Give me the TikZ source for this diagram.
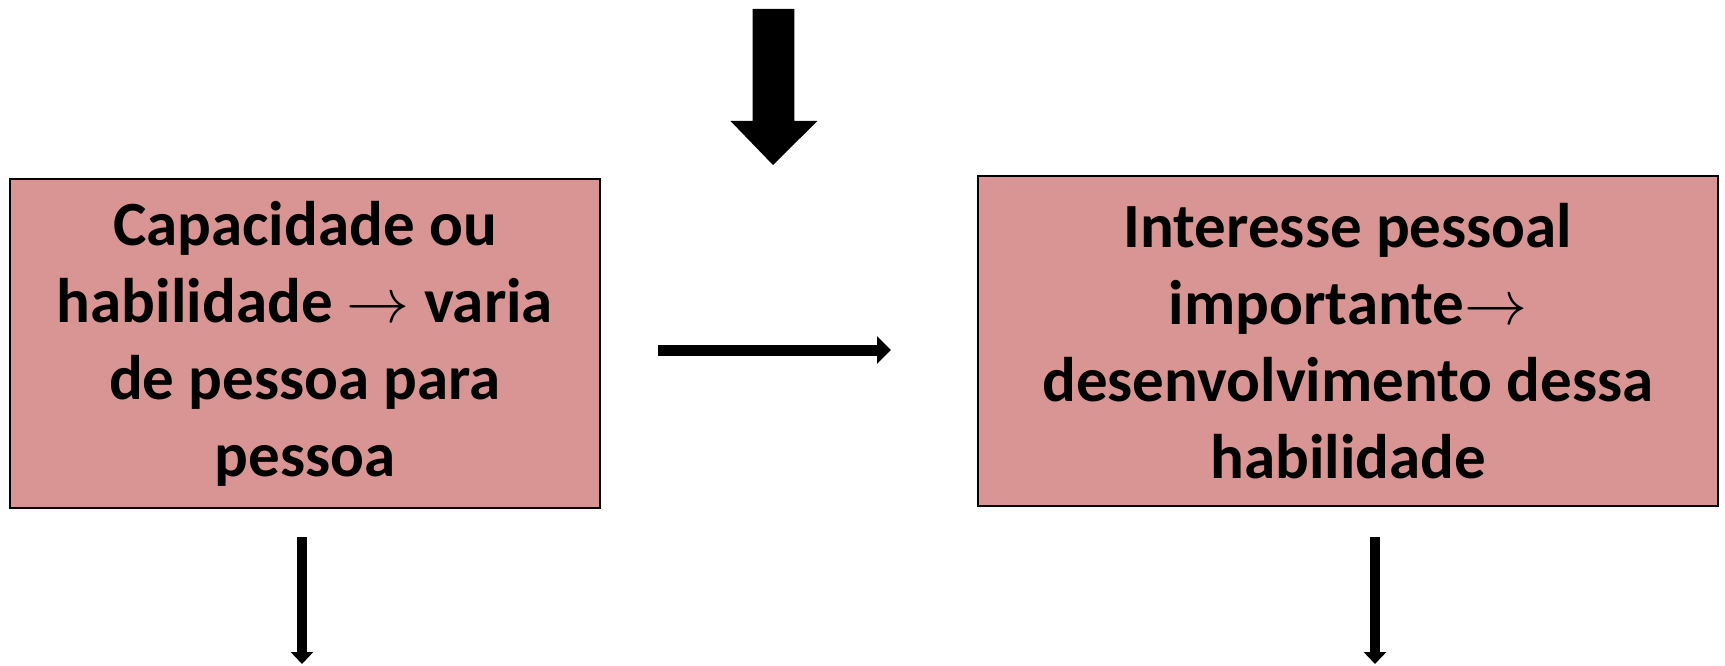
\RequirePackage{fix-cm}
\documentclass[tikz,border=0pt]{standalone}
\usepackage{fontspec}
\setmainfont{Carlito}
\usetikzlibrary{arrows.meta}
\definecolor{boxfill}{HTML}{D99594}
\tikzset{
  box/.style={draw=black, line width=1.5pt, fill=boxfill, align=center,
    font=\fontsize{63}{77}\selectfont\bfseries, inner sep=0pt},
  thinarrow/.style={line width=11pt, -{Triangle[length=14pt,width=27pt]}},
  downarrow/.style={line width=10pt, -{Triangle[length=12pt,width=22pt]}}
}
\begin{document}
\begin{tikzpicture}[x=1pt,y=-1pt]
\useasboundingbox (0,0) rectangle (1725,666);
\node[box, minimum width=590pt, minimum height=329pt] (left) at (305,343.5)
  {Capacidade ou\\habilidade \(\rightarrow\) varia\\de pessoa para\\pessoa};
\node[box, minimum width=740pt, minimum height=330pt] (right) at (1348,341)
  {Interesse pessoal\\importante\(\rightarrow\)\\desenvolvimento dessa\\habilidade};
% big arrow
\coordinate (bigtop) at (773,9);
\fill[black] (752.5,9) -- (794.3,9) -- (794.3,121) -- (817.4,121) -- (773,165)
  -- (730.5,121) -- (752.5,121) -- cycle;
% middle arrow
\coordinate (ms) at (658,350);
\coordinate (me) at (891,350);
\draw[thinarrow] (ms) -- (me);
% down arrows
\coordinate (l1) at (302,537);
\coordinate (l2) at (302,664);
\draw[downarrow] (l1) -- (l2);
\coordinate (r1) at (1375,537);
\coordinate (r2) at (1375,664);
\draw[downarrow] (r1) -- (r2);
\end{tikzpicture}
\end{document}
